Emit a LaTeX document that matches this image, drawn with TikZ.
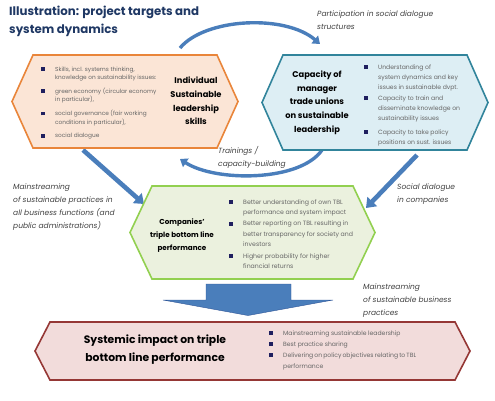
\documentclass[tikz,border=0pt]{standalone}
\usepackage{fontspec}
\setmainfont{Poppins}
\usetikzlibrary{arrows.meta}
\definecolor{navy}{HTML}{1F3864}
\definecolor{bulc}{HTML}{1F1F5F}
\definecolor{bodyc}{HTML}{666666}
\definecolor{labc}{HTML}{404040}
\definecolor{orB}{HTML}{E9853A}
\definecolor{orF}{HTML}{FBE5D6}
\definecolor{blB}{HTML}{31849B}
\definecolor{blF}{HTML}{DDEEF4}
\definecolor{grB}{HTML}{92D050}
\definecolor{grF}{HTML}{EBF1DE}
\definecolor{rdB}{HTML}{953735}
\definecolor{rdF}{HTML}{F2DCDB}
\definecolor{arr}{HTML}{4A7EBB}
\definecolor{arrD}{HTML}{2F5597}
\newcommand\bx{\leavevmode\llap{\textcolor{bulc}{\rule[0.2pt]{3.8pt}{3.8pt}}\hspace{10.5pt}}}
\newcommand\hexdraw[4]{%
  \path[draw=#3, fill=#4, line width=1.6pt, line join=miter]
    (#1.west) -- ([xshift=#2]#1.north west) -- ([xshift=-#2]#1.north east)
    -- (#1.east) -- ([xshift=-#2]#1.south east) -- ([xshift=#2]#1.south west) -- cycle;}
\begin{document}
\begin{tikzpicture}[x=1pt,y=-1pt,
  frame/.style={inner sep=0pt, outer sep=0pt},
  boldt/.style={font=\fontsize{8.3}{13.7}\selectfont\bfseries, align=center, text=black, inner sep=0pt},
  listt/.style={font=\fontsize{5.8}{8.6}\selectfont, align=left, text=bodyc, inner sep=0pt, anchor=north west},
  labt/.style={font=\fontsize{7.5}{12.8}\selectfont\itshape, align=left, text=labc, inner sep=0pt, anchor=north west},
  curvearr/.style={draw=arr, line width=3.4pt, -{Triangle[length=7pt,width=10pt]}},
  strarr/.style={draw=arr, line width=4.6pt, -{Triangle[length=9pt,width=13pt]}}]
\useasboundingbox (0,0) rectangle (495,400);

% frames
\node[frame, minimum width=226pt, minimum height=93pt] (o) at (125,101.5) {};
\node[frame, minimum width=226pt, minimum height=95pt] (b) at (375,102.5) {};
\node[frame, minimum width=245pt, minimum height=93pt] (g) at (252.5,232.5) {};
\node[frame, minimum width=435pt, minimum height=58pt] (r) at (252.5,351) {};

% connectors
\coordinate (ta) at (180,48);
\coordinate (tb) at (320,44);
\draw[curvearr] (ta) .. controls (205,18) and (285,14) .. (tb);
\coordinate (ba) at (322,150);
\coordinate (bb) at (180,159);
\draw[curvearr] (ba) .. controls (300,182) and (215,182) .. (bb);
\coordinate (la) at (83,150);
\coordinate (lb) at (144,204);
\draw[strarr] (la) -- (lb);
\coordinate (ra) at (417,155);
\coordinate (rb) at (366,208);
\draw[strarr] (ra) -- (rb);

\hexdraw{o}{21pt}{orB}{orF}
\hexdraw{b}{21pt}{blB}{blF}
\hexdraw{g}{22pt}{grB}{grF}
\hexdraw{r}{15pt}{rdB}{rdF}

% big down arrow (green -> red)
\path[fill=arr, draw=arrD, line width=0.4pt]
  (206,284) -- (291,284) -- (291,300) -- (333,300) -- (248,315.5)
  -- (163,300) -- (206,300) -- cycle;

% title
\node[anchor=north west, inner sep=0pt, align=left, text=navy,
  font=\fontsize{11.8}{17.5}\selectfont\bfseries] (title) at (9,6)
  {Illustration: project targets and\\system dynamics};

% labels
\node[labt] (lpart) at (317,11) {Participation in social dialogue\\structures};
\node[labt] (ltrain) at (218,146) {Trainings /\\capacity-building};
\node[labt] (lmain) at (13,184) {Mainstreaming\\of sustainable practices in\\all business functions (and\\public administrations)};
\node[labt] (lsoc) at (397,184) {Social dialogue\\in companies};
\node[labt] (lbiz) at (363,284) {Mainstreaming\\of sustainable business\\practices};

% orange box text
\node[boldt] (ot) at (196,101) {Individual\\Sustainable\\leadership\\skills};
\node[listt] (ol) at (55,66.5) {\bx Skills, incl. systems thinking,\\knowledge on sustainability issues:\\[5pt]
\bx green economy (circular economy\\in particular),\\[5pt]
\bx social governance (fair working\\conditions in particular),\\[5pt]
\bx social dialogue};

% blue box text
\node[boldt] (bt) at (317,102.5) {Capacity of\\manager\\trade unions\\on sustainable\\leadership};
\node[listt, font=\fontsize{6.1}{10.3}\selectfont] (bl) at (378,64.5) {\bx Understanding of\\system dynamics and key\\issues in sustainable dvpt.\\[0pt]
\bx Capacity to train and\\disseminate knowledge on\\sustainability issues\\[3pt]
\bx Capacity to take policy\\positions on sust. issues};

% green box text
\node[boldt, font=\fontsize{7.2}{13}\selectfont\bfseries] (gt) at (182,236) {Companies'\\triple bottom line\\performance};
\node[listt, font=\fontsize{6.2}{10.2}\selectfont] (gl) at (243,199.5) {\bx Better understanding of own TBL\\performance and system impact\\[1pt]
\bx Better reporting on TBL resulting in\\better transparency for society and\\investors\\[2pt]
\bx Higher probability for higher\\financial returns};

% red box text
\node[boldt, font=\fontsize{10.8}{18}\selectfont\bfseries] (rt) at (155,350) {Systemic impact on triple\\bottom line performance};
\node[listt, font=\fontsize{6.1}{11}\selectfont] (rl) at (283,330.5) {\bx Mainstreaming sustainable leadership\\
\bx Best practice sharing\\
\bx \makebox[132pt][s]{Delivering on policy objectives relating to TBL}\\performance};
\end{tikzpicture}
\end{document}
